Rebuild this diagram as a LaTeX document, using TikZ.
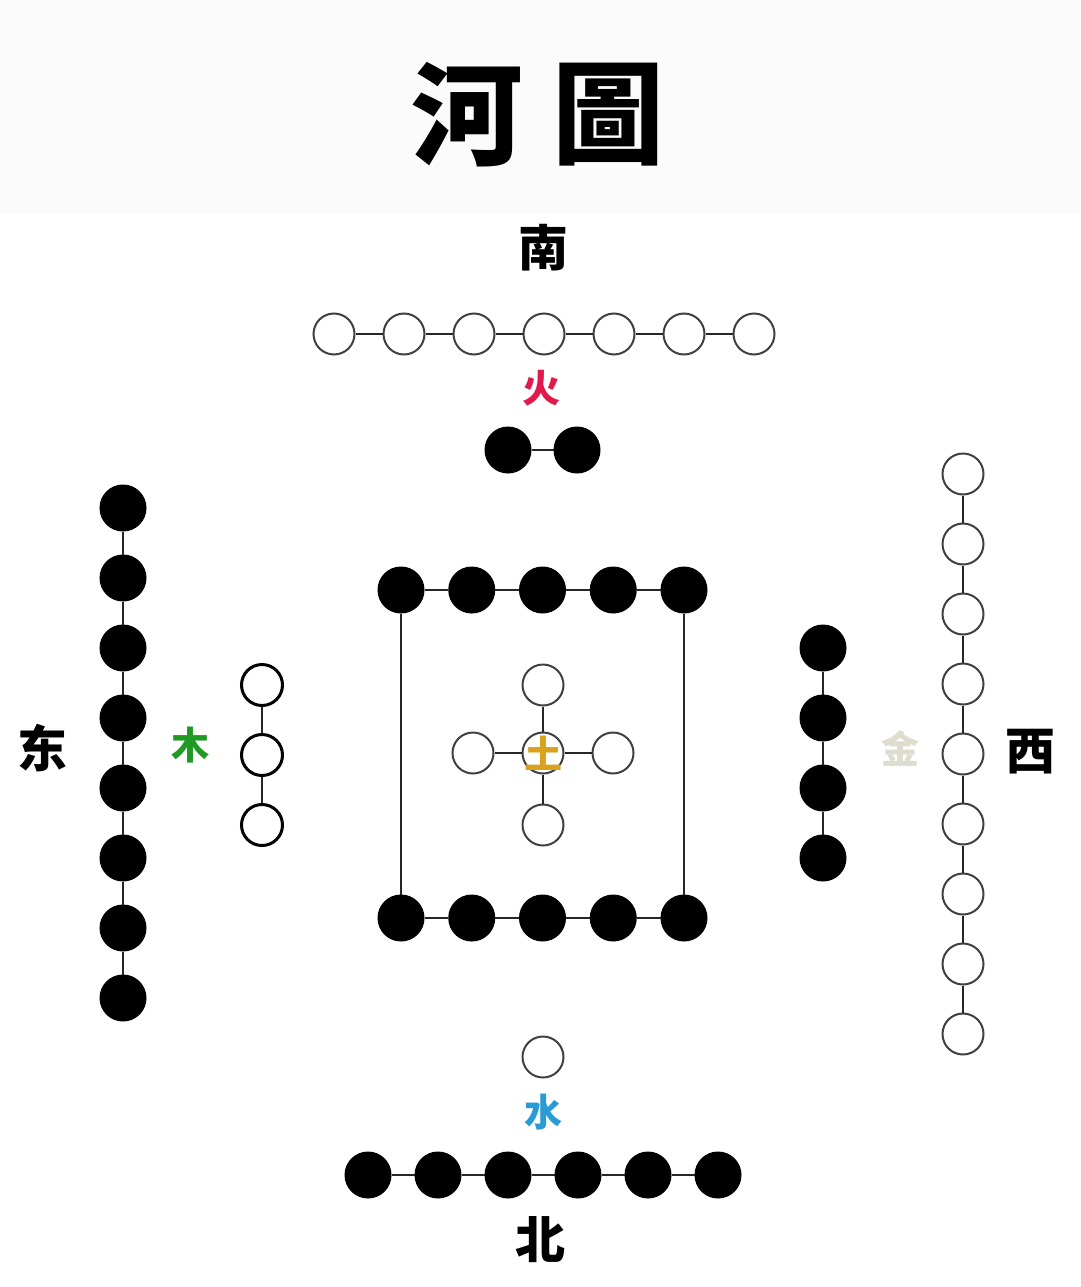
\documentclass[tikz,border=0pt]{standalone}
\usepackage{fontspec}
\usepackage{xcolor}
\newfontfamily\cjk{Noto Sans CJK SC}
\newfontfamily\cjktc{Noto Sans CJK TC}
\usetikzlibrary{positioning}

\definecolor{firered}{HTML}{E2194B}
\definecolor{earthgold}{HTML}{D8A21E}
\definecolor{waterblue}{HTML}{2A9BD6}
\definecolor{woodgreen}{HTML}{1F9A22}
\definecolor{metalgray}{HTML}{DEDBCF}

\begin{document}
\begin{tikzpicture}[
    x=1pt, y=-1pt,
    yin/.style={circle, draw=black, fill=black, minimum size=46pt, inner sep=0pt, line width=1pt},
    yang/.style={circle, draw=black!75, fill=white, line width=2pt, minimum size=41pt, inner sep=0pt},
    link/.style={draw=black!85, line width=2.5pt},
    dir/.style={font=\cjk\bfseries\fontsize{50}{50}\selectfont},
    elem/.style={font=\cjk\bfseries\fontsize{38}{38}\selectfont},
    title/.style={font=\cjktc\bfseries\fontsize{112}{112}\selectfont}
]
    \useasboundingbox (0,0) rectangle (1080,1287);
    \fill[black!1.5] (0,0) rectangle (1080,215);

    % title
    \node[title] (he) at (467,115) {河};
    \node[title] (tu) at (608,115) {圖};

    % directions
    \node[dir] (south) at (543,248) {南};
    \node[dir] (north) at (540,1240) {北};
    \node[dir] (east) at (42,748) {东};
    \node[dir] (west) at (1030,752) {西};

    % south: 7 and 2
    \foreach \i in {1,...,7}
        \node[yang] (t\i) at ({334+70*(\i-1)},334) {};
    \foreach \i [count=\j from 2] in {1,...,6}
        \draw[link] (t\i) -- (t\j);
    \node[elem, text=firered] (fire) at (541,388) {火};
    \node[yin] (f1) at (508,450) {};
    \node[yin] (f2) at (577,450) {};
    \draw[link] (f1) -- (f2);

    % centre: 10 and 5
    \foreach \i in {1,...,5} {
        \node[yin] (s\i) at ({401+70.75*(\i-1)},590) {};
        \node[yin] (b\i) at ({401+70.75*(\i-1)},918) {};
    }
    \foreach \i [count=\j from 2] in {1,...,4} {
        \draw[link] (s\i) -- (s\j);
        \draw[link] (b\i) -- (b\j);
    }
    \draw[link] (s1) -- (b1);
    \draw[link] (s5) -- (b5);

    \node[yang] (c0) at (543,753) {};
    \node[yang] (cn) at (543,685) {};
    \node[yang] (cs) at (543,825) {};
    \node[yang] (cw) at (473,753) {};
    \node[yang] (ce) at (613,753) {};
    \foreach \k in {cn,cs,cw,ce}
        \draw[link] (c0) -- (\k);
    \node[elem, text=earthgold] (earth) at (543,753) {土};

    % east: 8 and 3
    \foreach \i in {1,...,8}
        \node[yin] (e\i) at (123,{508+70*(\i-1)}) {};
    \foreach \i [count=\j from 2] in {1,...,7}
        \draw[link] (e\i) -- (e\j);
    \node[elem, text=woodgreen] (wood) at (190,745) {木};
    \foreach \i in {1,...,3}
        \node[yang, draw=black, line width=3pt] (w\i) at (262,{685+70*(\i-1)}) {};
    \draw[link] (w1) -- (w2);
    \draw[link] (w2) -- (w3);

    % west: 9 and 4
    \foreach \i in {1,...,4}
        \node[yin] (m\i) at (823,{648+70*(\i-1)}) {};
    \foreach \i [count=\j from 2] in {1,...,3}
        \draw[link] (m\i) -- (m\j);
    \node[elem, text=metalgray] (metal) at (900,748) {金};
    \foreach \i in {1,...,9}
        \node[yang] (v\i) at (963,{474+70*(\i-1)}) {};
    \foreach \i [count=\j from 2] in {1,...,8}
        \draw[link] (v\i) -- (v\j);

    % north: 1 and 6
    \node[yang] (h) at (543,1057) {};
    \node[elem, text=waterblue] (water) at (543,1112) {水};
    \foreach \i in {1,...,6}
        \node[yin] (n\i) at ({368+70*(\i-1)},1175) {};
    \foreach \i [count=\j from 2] in {1,...,5}
        \draw[link] (n\i) -- (n\j);
\end{tikzpicture}
\end{document}
